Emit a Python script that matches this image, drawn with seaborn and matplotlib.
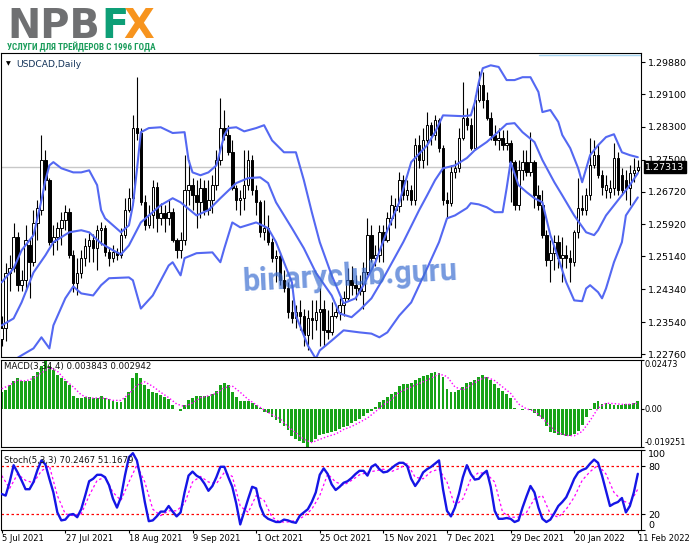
import numpy as np
import matplotlib
matplotlib.use("Agg")
import matplotlib.pyplot as plt
import matplotlib.transforms as mtransforms
from matplotlib import font_manager
import seaborn as sns

# USDCAD daily candles, 5 Jul 2021 .. 11 Feb 2022
open_ = [1.2314, 1.2339, 1.2473, 1.2485, 1.2561, 1.2444, 1.2456, 1.2541, 1.2500, 1.2595,
         1.2627, 1.2749, 1.2700, 1.2549, 1.2561, 1.2583, 1.2602, 1.2622, 1.2517, 1.2449,
         1.2473, 1.2510, 1.2539, 1.2553, 1.2534, 1.2578, 1.2583, 1.2524, 1.2510, 1.2524,
         1.2517, 1.2566, 1.2627, 1.2656, 1.2827, 1.2815, 1.2646, 1.2590, 1.2614, 1.2683,
         1.2607, 1.2619, 1.2607, 1.2622, 1.2553, 1.2529, 1.2553, 1.2675, 1.2688, 1.2663,
         1.2646, 1.2680, 1.2627, 1.2651, 1.2688, 1.2749, 1.2827, 1.2810, 1.2768, 1.2680,
         1.2651, 1.2656, 1.2688, 1.2749, 1.2675, 1.2646, 1.2573, 1.2583, 1.2549, 1.2510,
         1.2514, 1.2456, 1.2436, 1.2378, 1.2363, 1.2378, 1.2370, 1.2322, 1.2363, 1.2358,
         1.2378, 1.2387, 1.2334, 1.2329, 1.2370, 1.2378, 1.2395, 1.2412, 1.2456, 1.2444,
         1.2436, 1.2431, 1.2475, 1.2566, 1.2510, 1.2517, 1.2573, 1.2553, 1.2607, 1.2627,
         1.2636, 1.2700, 1.2663, 1.2675, 1.2651, 1.2785, 1.2749, 1.2797, 1.2834, 1.2810,
         1.2846, 1.2778, 1.2651, 1.2644, 1.2719, 1.2729, 1.2802, 1.2851, 1.2834, 1.2778,
         1.2895, 1.2932, 1.2895, 1.2851, 1.2810, 1.2797, 1.2802, 1.2785, 1.2790, 1.2744,
         1.2639, 1.2724, 1.2744, 1.2719, 1.2744, 1.2663, 1.2639, 1.2566, 1.2505, 1.2522,
         1.2549, 1.2510, 1.2517, 1.2510, 1.2500, 1.2573, 1.2632, 1.2627, 1.2663, 1.2736,
         1.2761, 1.2712, 1.2675, 1.2671, 1.2680, 1.2754, 1.2712, 1.2700, 1.2680, 1.2717,
         1.2726]
high = [1.2370, 1.2497, 1.2517, 1.2595, 1.2573, 1.2480, 1.2590, 1.2558, 1.2627, 1.2651,
        1.2810, 1.2773, 1.2705, 1.2590, 1.2597, 1.2622, 1.2639, 1.2632, 1.2529, 1.2510,
        1.2529, 1.2558, 1.2571, 1.2568, 1.2590, 1.2597, 1.2590, 1.2534, 1.2541, 1.2534,
        1.2583, 1.2656, 1.2680, 1.2858, 1.2951, 1.2827, 1.2663, 1.2639, 1.2700, 1.2695,
        1.2644, 1.2639, 1.2651, 1.2632, 1.2558, 1.2573, 1.2761, 1.2749, 1.2705, 1.2700,
        1.2705, 1.2700, 1.2700, 1.2712, 1.2773, 1.2900, 1.2871, 1.2834, 1.2797, 1.2688,
        1.2675, 1.2773, 1.2773, 1.2761, 1.2688, 1.2651, 1.2651, 1.2614, 1.2558, 1.2529,
        1.2524, 1.2480, 1.2451, 1.2407, 1.2395, 1.2407, 1.2387, 1.2383, 1.2407, 1.2407,
        1.2436, 1.2407, 1.2383, 1.2402, 1.2395, 1.2412, 1.2431, 1.2485, 1.2492, 1.2468,
        1.2468, 1.2500, 1.2607, 1.2590, 1.2541, 1.2590, 1.2590, 1.2622, 1.2663, 1.2656,
        1.2719, 1.2712, 1.2700, 1.2688, 1.2802, 1.2810, 1.2827, 1.2866, 1.2842, 1.2858,
        1.2851, 1.2785, 1.2671, 1.2736, 1.2749, 1.2827, 1.2939, 1.2876, 1.2851, 1.2907,
        1.2966, 1.2963, 1.2915, 1.2866, 1.2834, 1.2827, 1.2822, 1.2822, 1.2797, 1.2749,
        1.2749, 1.2773, 1.2773, 1.2817, 1.2749, 1.2688, 1.2675, 1.2578, 1.2553, 1.2566,
        1.2566, 1.2561, 1.2541, 1.2529, 1.2578, 1.2705, 1.2663, 1.2680, 1.2802, 1.2797,
        1.2785, 1.2724, 1.2712, 1.2700, 1.2790, 1.2768, 1.2729, 1.2724, 1.2736, 1.2754,
        1.2749]
low = [1.2297, 1.2309, 1.2431, 1.2475, 1.2431, 1.2431, 1.2431, 1.2412, 1.2492, 1.2553,
       1.2614, 1.2675, 1.2541, 1.2517, 1.2529, 1.2541, 1.2578, 1.2510, 1.2427, 1.2419,
       1.2461, 1.2492, 1.2500, 1.2500, 1.2480, 1.2541, 1.2514, 1.2492, 1.2500, 1.2505,
       1.2510, 1.2558, 1.2622, 1.2646, 1.2797, 1.2639, 1.2578, 1.2583, 1.2583, 1.2573,
       1.2590, 1.2573, 1.2590, 1.2549, 1.2510, 1.2510, 1.2541, 1.2639, 1.2627, 1.2583,
       1.2607, 1.2614, 1.2614, 1.2619, 1.2675, 1.2736, 1.2797, 1.2761, 1.2675, 1.2627,
       1.2614, 1.2627, 1.2675, 1.2663, 1.2614, 1.2561, 1.2553, 1.2541, 1.2500, 1.2451,
       1.2444, 1.2427, 1.2363, 1.2353, 1.2339, 1.2334, 1.2297, 1.2285, 1.2314, 1.2334,
       1.2297, 1.2297, 1.2314, 1.2322, 1.2363, 1.2358, 1.2370, 1.2407, 1.2419, 1.2407,
       1.2419, 1.2387, 1.2468, 1.2500, 1.2492, 1.2500, 1.2500, 1.2549, 1.2590, 1.2583,
       1.2622, 1.2651, 1.2651, 1.2639, 1.2639, 1.2729, 1.2729, 1.2736, 1.2785, 1.2797,
       1.2768, 1.2639, 1.2607, 1.2636, 1.2705, 1.2719, 1.2797, 1.2822, 1.2773, 1.2773,
       1.2890, 1.2876, 1.2846, 1.2797, 1.2785, 1.2773, 1.2773, 1.2773, 1.2646, 1.2627,
       1.2627, 1.2700, 1.2710, 1.2710, 1.2632, 1.2627, 1.2558, 1.2492, 1.2451, 1.2480,
       1.2485, 1.2451, 1.2485, 1.2451, 1.2492, 1.2558, 1.2614, 1.2614, 1.2651, 1.2729,
       1.2705, 1.2663, 1.2656, 1.2656, 1.2663, 1.2663, 1.2663, 1.2651, 1.2639, 1.2695,
       1.2719]
close = [1.2339, 1.2473, 1.2485, 1.2561, 1.2444, 1.2456, 1.2553, 1.2500, 1.2595, 1.2632,
         1.2749, 1.2700, 1.2549, 1.2561, 1.2583, 1.2602, 1.2622, 1.2517, 1.2449, 1.2473,
         1.2510, 1.2539, 1.2553, 1.2534, 1.2578, 1.2583, 1.2524, 1.2510, 1.2524, 1.2517,
         1.2566, 1.2627, 1.2656, 1.2827, 1.2815, 1.2646, 1.2590, 1.2614, 1.2683, 1.2607,
         1.2619, 1.2607, 1.2622, 1.2553, 1.2529, 1.2553, 1.2675, 1.2688, 1.2663, 1.2646,
         1.2680, 1.2627, 1.2651, 1.2688, 1.2749, 1.2827, 1.2810, 1.2768, 1.2680, 1.2651,
         1.2656, 1.2688, 1.2749, 1.2675, 1.2646, 1.2573, 1.2583, 1.2549, 1.2510, 1.2514,
         1.2456, 1.2436, 1.2378, 1.2363, 1.2378, 1.2370, 1.2322, 1.2363, 1.2358, 1.2378,
         1.2387, 1.2334, 1.2329, 1.2370, 1.2378, 1.2395, 1.2412, 1.2456, 1.2444, 1.2436,
         1.2431, 1.2475, 1.2566, 1.2510, 1.2517, 1.2573, 1.2553, 1.2607, 1.2639, 1.2636,
         1.2700, 1.2663, 1.2675, 1.2651, 1.2785, 1.2749, 1.2797, 1.2834, 1.2810, 1.2846,
         1.2778, 1.2651, 1.2644, 1.2719, 1.2729, 1.2802, 1.2851, 1.2834, 1.2778, 1.2895,
         1.2932, 1.2895, 1.2851, 1.2810, 1.2797, 1.2802, 1.2785, 1.2790, 1.2744, 1.2639,
         1.2724, 1.2744, 1.2719, 1.2744, 1.2663, 1.2639, 1.2566, 1.2505, 1.2522, 1.2549,
         1.2510, 1.2517, 1.2510, 1.2500, 1.2573, 1.2632, 1.2627, 1.2663, 1.2736, 1.2761,
         1.2712, 1.2683, 1.2688, 1.2680, 1.2754, 1.2675, 1.2675, 1.2680, 1.2717, 1.2726,
         1.27313]

# Bollinger bands, read at the bars where each curve was traced
bb_upper_bar = [0, 3, 5, 8, 10, 11, 12, 13, 15, 18, 20, 22, 24, 25, 26, 28, 30, 32, 33, 34,
                35, 37, 40, 43, 46, 47, 48, 50, 52, 54, 56, 57, 59, 61, 64, 66, 68, 71, 74, 76,
                78, 80, 83, 86, 89, 91, 94, 97, 100, 103, 107, 109, 111, 116, 118, 119, 120, 121, 123, 125,
                127, 129, 131, 133, 135, 136, 138, 140, 141, 143, 145, 146, 148, 150, 152, 154, 156, 158, 160]
bb_upper = [1.2451, 1.2485, 1.2529, 1.2566, 1.2651, 1.2700, 1.2736, 1.2744, 1.2729, 1.2719,
            1.2719, 1.2724, 1.2688, 1.2627, 1.2607, 1.2590, 1.2573, 1.2590, 1.2639, 1.2724,
            1.2817, 1.2827, 1.2829, 1.2815, 1.2817, 1.2749, 1.2719, 1.2712, 1.2719, 1.2736,
            1.2810, 1.2827, 1.2829, 1.2819, 1.2827, 1.2834, 1.2797, 1.2768, 1.2768, 1.2700,
            1.2622, 1.2549, 1.2468, 1.2400, 1.2412, 1.2444, 1.2500, 1.2578, 1.2646, 1.2744,
            1.2785, 1.2817, 1.2858, 1.2856, 1.2858, 1.2890, 1.2939, 1.2973, 1.2980, 1.2976,
            1.2944, 1.2944, 1.2951, 1.2951, 1.2915, 1.2866, 1.2871, 1.2842, 1.2810, 1.2778,
            1.2729, 1.2695, 1.2761, 1.2785, 1.2805, 1.2812, 1.2768, 1.2761, 1.2756]
bb_mid_bar = [0, 3, 5, 8, 11, 13, 17, 20, 22, 25, 28, 30, 32, 35, 40, 43, 45, 49, 52, 55,
              59, 62, 65, 67, 69, 73, 76, 79, 83, 85, 88, 90, 93, 96, 101, 105, 107, 109, 111, 114,
              117, 119, 122, 124, 127, 129, 131, 134, 136, 139, 141, 144, 147, 149, 150, 152, 155, 158, 160]
bb_mid = [1.2346, 1.2363, 1.2402, 1.2475, 1.2517, 1.2549, 1.2573, 1.2578, 1.2573, 1.2546,
          1.2529, 1.2519, 1.2541, 1.2597, 1.2639, 1.2656, 1.2646, 1.2614, 1.2627, 1.2656,
          1.2693, 1.2705, 1.2707, 1.2693, 1.2646, 1.2583, 1.2534, 1.2475, 1.2419, 1.2375,
          1.2366, 1.2383, 1.2412, 1.2461, 1.2549, 1.2627, 1.2663, 1.2700, 1.2729, 1.2736,
          1.2754, 1.2773, 1.2793, 1.2810, 1.2837, 1.2839, 1.2817, 1.2793, 1.2749, 1.2695,
          1.2663, 1.2614, 1.2573, 1.2566, 1.2578, 1.2614, 1.2651, 1.2688, 1.2717]
bb_lower_bar = [0, 3, 5, 8, 10, 12, 13, 16, 18, 20, 23, 25, 27, 32, 33, 35, 38, 42, 43, 45,
                46, 49, 53, 55, 56, 58, 60, 64, 67, 69, 73, 74, 77, 79, 80, 83, 86, 90, 93, 95,
                97, 100, 103, 107, 110, 112, 114, 117, 118, 120, 122, 124, 126, 127, 128, 130, 132, 134, 136, 138,
                140, 142, 144, 146, 147, 148, 150, 151, 152, 154, 156, 157, 160]
bb_lower = [1.2241, 1.2261, 1.2273, 1.2290, 1.2317, 1.2290, 1.2346, 1.2412, 1.2441, 1.2424,
            1.2419, 1.2444, 1.2461, 1.2463, 1.2456, 1.2387, 1.2419, 1.2492, 1.2500, 1.2468,
            1.2510, 1.2522, 1.2524, 1.2500, 1.2534, 1.2597, 1.2585, 1.2597, 1.2583, 1.2549,
            1.2451, 1.2370, 1.2297, 1.2265, 1.2285, 1.2309, 1.2334, 1.2329, 1.2326, 1.2317,
            1.2329, 1.2370, 1.2402, 1.2485, 1.2549, 1.2607, 1.2614, 1.2632, 1.2644, 1.2641,
            1.2634, 1.2622, 1.2622, 1.2680, 1.2744, 1.2688, 1.2671, 1.2656, 1.2646, 1.2566,
            1.2510, 1.2451, 1.2407, 1.2405, 1.2436, 1.2444, 1.2427, 1.2412, 1.2436, 1.2500,
            1.2549, 1.2614, 1.2658]

# MACD(3,34,4): histogram for every bar, signal read on every second bar
macd_hist = [0.0084, 0.0096, 0.0120, 0.0141, 0.0154, 0.0143, 0.0143, 0.0143, 0.0164, 0.0189,
             0.0218, 0.0240, 0.0218, 0.0195, 0.0171, 0.0155, 0.0139, 0.0121, 0.0066, 0.0054,
             0.0055, 0.0059, 0.0059, 0.0057, 0.0057, 0.0064, 0.0057, 0.0052, 0.0041, 0.0036,
             0.0037, 0.0054, 0.0084, 0.0155, 0.0180, 0.0154, 0.0120, 0.0100, 0.0086, 0.0080,
             0.0071, 0.0059, 0.0050, 0.0021, 0.0002, -0.0009, 0.0018, 0.0043, 0.0055, 0.0064,
             0.0066, 0.0064, 0.0064, 0.0073, 0.0093, 0.0121, 0.0129, 0.0120, 0.0087, 0.0059,
             0.0039, 0.0041, 0.0041, 0.0032, 0.0018, 0.0004, -0.0016, -0.0023, -0.0039, -0.0055,
             -0.0071, -0.0087, -0.0107, -0.0136, -0.0152, -0.0164, -0.0171, -0.0190, -0.0168, -0.0152,
             -0.0134, -0.0125, -0.0120, -0.0116, -0.0111, -0.0102, -0.0093, -0.0084, -0.0071, -0.0061,
             -0.0050, -0.0036, -0.0023, -0.0009, 0.0012, 0.0034, 0.0046, 0.0059, 0.0075, 0.0084,
             0.0114, 0.0127, 0.0127, 0.0132, 0.0145, 0.0157, 0.0166, 0.0173, 0.0182, 0.0186,
             0.0182, 0.0161, 0.0102, 0.0084, 0.0087, 0.0095, 0.0111, 0.0130, 0.0137, 0.0146,
             0.0162, 0.0171, 0.0161, 0.0145, 0.0125, 0.0104, 0.0089, 0.0075, 0.0054, 0.0004,
             -0.0002, -0.0005, -0.0002, -0.0007, -0.0021, -0.0036, -0.0052, -0.0086, -0.0118, -0.0121,
             -0.0130, -0.0134, -0.0136, -0.0136, -0.0129, -0.0111, -0.0082, -0.0043, -0.0007, 0.0030,
             0.0039, 0.0023, 0.0029, 0.0023, 0.0021, 0.0020, 0.0020, 0.0023, 0.0025, 0.0030,
             0.003843]
macd_signal = [0.0102, 0.0120, 0.0145, 0.0141, 0.0155, 0.0182, 0.0209, 0.0191, 0.0146, 0.0111,
               0.0071, 0.0054, 0.0055, 0.0054, 0.0043, 0.0043, 0.0075, 0.0120, 0.0137, 0.0114,
               0.0084, 0.0057, 0.0025, 0.0012, 0.0030, 0.0057, 0.0066, 0.0079, 0.0107, 0.0116,
               0.0084, 0.0048, 0.0021, -0.0005, -0.0029, -0.0050, -0.0089, -0.0121, -0.0154, -0.0170,
               -0.0154, -0.0139, -0.0127, -0.0104, -0.0089, -0.0068, -0.0046, -0.0014, 0.0021, 0.0048,
               0.0084, 0.0102, 0.0120, 0.0137, 0.0155, 0.0177, 0.0164, 0.0111, 0.0096, 0.0120,
               0.0146, 0.0161, 0.0143, 0.0111, 0.0079, 0.0025, 0.0000, -0.0011, -0.0046, -0.0089,
               -0.0121, -0.0134, -0.0136, -0.0114, -0.0059, 0.0004, 0.0029, 0.0027, 0.0023, 0.0023,
               0.002942]

# Stoch(5,3,3): %K for every bar, %D read on every second bar
stoch_k = [45, 43, 60, 81, 72, 62, 51, 51, 60, 75, 87, 82, 64, 47, 22, 12, 13, 19, 20, 16,
           26, 43, 61, 64, 69, 69, 66, 56, 39, 28, 41, 68, 91, 96, 87, 64, 35, 11, 12, 17,
           23, 23, 30, 23, 17, 22, 47, 68, 73, 68, 65, 58, 49, 55, 66, 79, 79, 66, 54, 33,
           7, 23, 39, 54, 52, 30, 18, 14, 12, 10, 10, 13, 12, 10, 9, 18, 22, 26, 35, 47,
           69, 77, 70, 57, 50, 54, 59, 61, 65, 70, 74, 74, 68, 79, 82, 76, 72, 73, 77, 81,
           84, 84, 80, 64, 55, 62, 72, 76, 79, 83, 87, 51, 24, 17, 28, 45, 66, 81, 70, 63,
           64, 70, 74, 54, 24, 14, 14, 15, 14, 10, 12, 28, 42, 55, 47, 28, 14, 10, 13, 21,
           30, 35, 41, 52, 64, 72, 75, 77, 83, 88, 84, 68, 49, 30, 33, 35, 40, 22, 30, 47,
           70.2467]
stoch_d = [68, 52, 70, 62, 59, 74, 80, 43, 20, 18, 20, 43, 62, 66, 47, 37, 60, 81, 60, 26,
           18, 24, 24, 33, 60, 67, 60, 58, 72, 67, 30, 22, 43, 37, 16, 10, 10, 12, 17, 26,
           43, 70, 60, 56, 62, 69, 72, 74, 76, 73, 77, 83, 66, 64, 73, 76, 60, 30, 39, 64,
           72, 70, 60, 22, 16, 16, 22, 39, 43, 20, 16, 26, 41, 62, 73, 81, 70, 47, 37, 33,
           51.1679]

date_labels = ["5 Jul 2021", "27 Jul 2021", "18 Aug 2021", "9 Sep 2021", "1 Oct 2021",
               "25 Oct 2021", "15 Nov 2021", "7 Dec 2021", "29 Dec 2021", "20 Jan 2022",
               "11 Feb 2022"]
price_ticks = [1.29880, 1.29100, 1.28300, 1.27500, 1.26720, 1.25920, 1.25140, 1.24340,
               1.23540, 1.22760]
macd_ticks = [0.02473, 0.0, -0.019251]
macd_tick_labels = ["0.02473", "0.00", "-0.019251"]
stoch_ticks = [100, 80, 20, 0]

sns.set_theme(style="white", rc={"axes.edgecolor": "black", "axes.linewidth": 0.8})
plt.rcParams["font.family"] = ["DejaVu Sans"]

W, H = 691, 549
fig = plt.figure(figsize=(W / 100, H / 100), dpi=100)
fig.patch.set_facecolor("white")


def panel(top, bottom, left=0.5, right=641):
    return fig.add_axes([left / W, 1 - bottom / H, (right - left) / W, (bottom - top) / H])


ax_p = panel(53, 357)
ax_m = panel(360, 447)
ax_s = panel(450, 530)

bars = np.arange(len(close))
even_bars = bars[::2]
o, h, l, c = (np.array(v) for v in (open_, high, low, close))
bull = c >= o
body_lo = np.minimum(o, c)
body_h = np.maximum(np.abs(c - o), 0.00008)

# price panel
ax_p.axhline(close[-1], color="#c8c8c8", lw=1, zorder=1)
ax_p.vlines(bars, l, h, color="black", lw=0.8, zorder=2)
ax_p.bar(bars[bull], body_h[bull], bottom=body_lo[bull], width=0.62,
         color="white", edgecolor="black", linewidth=0.7, zorder=3)
ax_p.bar(bars[~bull], body_h[~bull], bottom=body_lo[~bull], width=0.62,
         color="black", edgecolor="black", linewidth=0.7, zorder=3)
for xs, ys in ((bb_upper_bar, bb_upper), (bb_mid_bar, bb_mid), (bb_lower_bar, bb_lower)):
    sns.lineplot(x=xs, y=ys, ax=ax_p, color="#5468f2", linewidth=1.5, zorder=4)
ax_p.plot([0.84, 1.0], [0.994, 0.994], transform=ax_p.transAxes, color="#a6d6f2", lw=1)
ax_p.set_ylim(1.2269, 1.3010)

# MACD panel
ax_m.bar(bars, macd_hist, width=0.72, color="#17a317", edgecolor="none", linewidth=0,
         zorder=2)
sns.lineplot(x=even_bars, y=macd_signal, ax=ax_m, color="#ff00ff", linewidth=1,
             linestyle=(0, (1, 1.5)), zorder=3)
ax_m.set_ylim(-0.019251, 0.02473)

# Stochastic panel
for lvl in (80, 20):
    ax_s.axhline(lvl, color="#ff0000", lw=0.9, linestyle=(0, (2, 2)), zorder=1)
sns.lineplot(x=even_bars, y=stoch_d, ax=ax_s, color="#ff00ff", linewidth=0.9,
             linestyle=(0, (2, 2)), zorder=2)
sns.lineplot(x=bars, y=stoch_k, ax=ax_s, color="#1515e6", linewidth=1.7, zorder=3)
ax_s.set_ylim(0, 100)

for ax in (ax_p, ax_m, ax_s):
    ax.set_xlim(-0.3, 160.8)
    ax.set_xlabel("")
    ax.set_ylabel("")
    ax.set_facecolor("white")
    for sp in ax.spines.values():
        sp.set_color("black")
        sp.set_linewidth(0.8)
    ax.tick_params(axis="y", left=False, labelleft=False, right=True, labelright=True,
                   length=3, width=0.8, pad=2, labelsize=6.8, colors="black", direction="out")
    ax.tick_params(axis="x", bottom=False, labelbottom=False)

ax_p.set_yticks(price_ticks)
ax_p.set_yticklabels([f"{t:.5f}" for t in price_ticks])
ax_m.set_yticks(macd_ticks)
ax_m.set_yticklabels(macd_tick_labels)
ax_m.tick_params(axis="y", labelsize=5.9, length=2, pad=0.8)
ax_s.set_yticks(stoch_ticks)
ax_s.set_yticklabels([str(t) for t in stoch_ticks])
for ax in (ax_m, ax_s):
    labs = ax.get_yticklabels()
    labs[0].set_va("top")
    labs[-1].set_va("bottom")

ax_s.set_xticks(bars[::16])
ax_s.set_xticklabels(date_labels)
ax_s.tick_params(axis="x", bottom=True, labelbottom=True, length=2.5, width=0.8, pad=0.5,
                 labelsize=6.0, colors="black", direction="out")
shift = mtransforms.ScaledTranslation(0.5 / 100, 0, fig.dpi_scale_trans)
for lab in ax_s.get_xticklabels():
    lab.set_ha("left")
    lab.set_transform(lab.get_transform() + shift)

# current price box on the scale
ax_p.text(1.0065, close[-1], "1.27313", transform=mtransforms.blended_transform_factory(
    ax_p.transAxes, ax_p.transData), color="white", fontsize=6.8, va="center", ha="left",
    bbox=dict(boxstyle="square,pad=0.15", fc="black", ec="black"), zorder=6)

# panel captions
fig.text(6 / W, 1 - 64 / H, "\u25bc", fontsize=4.5, va="center", color="black")
fig.text(16 / W, 1 - 64 / H, "USDCAD,Daily", fontsize=6.6, va="center", color="#14345a")
fig.text(4 / W, 1 - 367 / H, "MACD(3,34,4) 0.003843 0.002942", fontsize=6.2, va="center",
         color="#111111")
fig.text(4 / W, 1 - 460 / H, "Stoch(5,3,3) 70.2467 51.1679", fontsize=6.2, va="center",
         color="#111111")

renderer = fig.canvas.get_renderer()


def fit_width(txt, target_px):
    w = txt.get_window_extent(renderer=renderer).width
    txt.set_fontsize(txt.get_fontsize() * target_px / w)


# logo
npb = fig.text(7 / W, 1 - 38 / H, "NPB", fontsize=28, fontweight="bold", color="#6f7072",
               va="baseline")
fit_width(npb, 93)
logo_size = npb.get_fontsize()
fig.text(101 / W, 1 - 38 / H, "F", fontsize=logo_size, fontweight="bold", color="#0e9f77",
         va="baseline")
fig.text(123 / W, 1 - 38 / H, "X", fontsize=logo_size, fontweight="bold", color="#f7941e",
         va="baseline")

names = set(font_manager.get_font_names())
narrow = next((n for n in ["Liberation Sans Narrow", "DejaVu Sans Condensed", "Roboto Condensed"]
               if n in names), "DejaVu Sans")
sub = fig.text(7 / W, 1 - 50.5 / H, "УСЛУГИ ДЛЯ ТРЕЙДЕРОВ С 1996 ГОДА", fontsize=7,
               fontweight="bold", color="#1a9c5b", family=[narrow, "DejaVu Sans"], va="baseline")
fit_width(sub, 150)

# watermark
wm_font = "Roboto" if "Roboto" in names else "DejaVu Sans"
wm = fig.text(350 / W, 1 - 276 / H, "binaryclub.guru", fontsize=22, fontweight="bold",
              family=[wm_font, "DejaVu Sans"], color="#3d6fd1", alpha=0.7, ha="center",
              va="center", zorder=10)
fit_width(wm, 215)
wm.set_rotation(3)

fig.savefig("out.png", dpi=100)
